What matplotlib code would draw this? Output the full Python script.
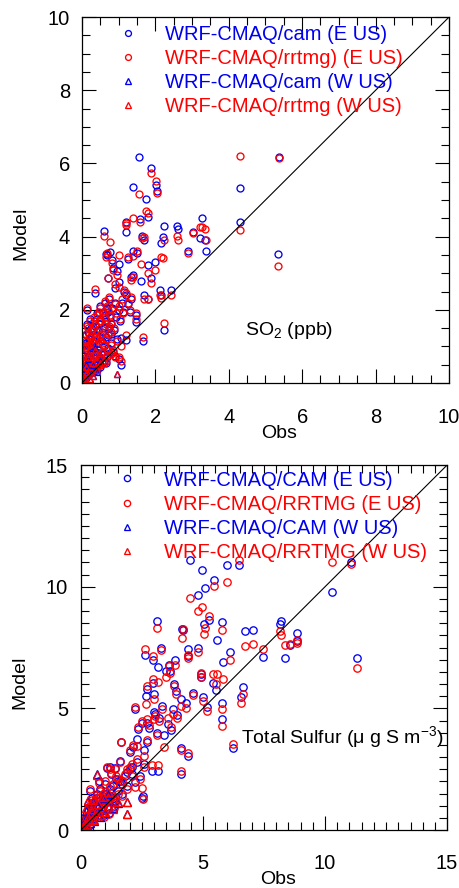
import numpy as np
import matplotlib
matplotlib.use('Agg')
from matplotlib import pyplot as plt
from matplotlib.ticker import MultipleLocator

plt.rcParams['font.family'] = ['Liberation Sans', 'DejaVu Sans']
plt.rcParams['mathtext.fontset'] = 'custom'
plt.rcParams['mathtext.rm'] = 'Liberation Sans'
plt.rcParams['mathtext.it'] = 'Liberation Sans:italic'

# ---- SO2 panel, E US sites: obs, WRF-CMAQ/cam, WRF-CMAQ/rrtmg ----
so2_e_obs = [1.56, 1.87, 2.02, 2.06, 1.40, 1.75, 1.80, 1.57, 0.59, 0.76, 1.20, 1.19, 1.65, 1.68,
             2.25, 2.22, 2.60, 2.62, 3.02, 3.27, 3.36, 3.22, 3.38, 2.90, 2.15, 2.13, 2.15, 1.98,
             1.87, 2.42, 2.24, 1.67, 4.31, 4.31, 5.38, 5.34, 0.65, 0.68, 0.36, 0.15, 1.07, 1.07,
             1.20, 1.47, 1.47, 0.83, 1.00, 1.25, 1.38, 1.50, 1.79, 1.60, 0.70, 0.85, 0.95, 1.40,
             1.35, 0.90, 1.00, 1.20, 1.35, 1.70, 1.80,
             0.05, 0.08, 0.10, 0.12, 0.15, 0.18, 0.20, 0.22, 0.25, 0.28, 0.30, 0.32, 0.35, 0.38,
             0.40, 0.42, 0.45, 0.48, 0.50, 0.52, 0.55, 0.58, 0.60, 0.62, 0.65, 0.68, 0.70, 0.72,
             0.75, 0.78, 0.80, 0.82, 0.85, 0.88, 0.90, 0.92, 0.95, 1.00, 1.02, 1.05, 1.10, 1.12,
             1.15, 1.25, 1.30, 0.02, 0.04, 0.06, 0.03, 0.10, 0.14, 0.20, 0.25, 0.05, 0.08, 0.10,
             0.12, 0.18, 0.22, 0.30, 0.35, 0.40, 0.50, 0.55, 0.60, 0.65, 0.70, 0.80, 0.90,
             0.03, 0.07, 0.09, 0.13, 0.16, 0.19, 0.23, 0.26, 0.29, 0.33, 0.36, 0.39, 0.43, 0.46,
             0.49, 0.53, 0.56, 0.59, 0.63, 0.66, 0.69, 0.73, 0.76, 0.79, 0.60, 0.50, 0.45, 0.35,
             0.25, 0.15]
so2_e_cam = [6.17, 5.89, 5.41, 5.25, 5.36, 5.02, 4.55, 4.49, 4.16, 3.58, 4.14, 4.40, 4.02, 3.92,
             4.28, 4.00, 4.30, 4.20, 4.13, 4.50, 3.92, 3.97, 3.60, 3.62, 3.84, 2.53, 2.40, 3.30,
             2.88, 2.53, 1.44, 1.15, 5.33, 4.41, 6.19, 3.53, 3.53, 3.50, 2.47, 1.99, 1.24, 0.48,
             1.18, 1.85, 1.67, 3.35, 3.25, 3.40, 3.62, 3.55, 3.22, 2.80, 2.86, 3.15, 3.05, 2.96,
             2.90, 2.60, 2.75, 2.40, 2.30, 2.40, 2.30,
             0.20, 0.40, 0.60, 0.30, 0.90, 0.50, 1.20, 0.80, 1.50, 0.40, 1.00, 1.70, 0.70, 1.30,
             1.90, 0.50, 1.10, 1.60, 2.10, 0.80, 1.40, 1.90, 1.00, 2.20, 1.70, 0.70, 1.30, 1.95,
             2.30, 1.10, 1.60, 2.05, 0.85, 1.45, 2.20, 1.80, 1.20, 2.00, 0.65, 1.70, 2.20, 1.95,
             2.50, 2.15, 1.95, 0.05, 0.10, 0.15, 0.30, 0.15, 0.20, 0.25, 0.30, 0.60, 0.90, 1.30,
             1.10, 1.40, 1.20, 0.30, 0.35, 0.35, 0.45, 0.55, 0.60, 0.55, 0.95, 0.85, 0.75,
             0.50, 0.75, 1.05, 1.60, 0.70, 1.00, 1.75, 0.95, 1.45, 1.15, 1.55, 0.85, 1.45, 1.90,
             1.25, 1.65, 1.15, 1.50, 1.85, 1.25, 2.05, 1.50, 1.80, 1.35, 0.80, 0.65, 0.90, 0.50,
             0.65, 0.45]
so2_e_rrtmg = [5.17, 5.73, 5.53, 5.18, 4.52, 4.70, 4.65, 4.40, 4.02, 3.85, 4.37, 4.33, 3.95, 4.00,
               3.92, 3.42, 4.03, 3.92, 4.10, 4.26, 4.20, 4.26, 3.92, 3.55, 3.44, 2.40, 2.33, 3.10,
               2.74, 2.40, 1.64, 1.26, 6.20, 4.19, 6.14, 3.20, 3.44, 3.55, 2.57, 2.06, 1.02, 0.60,
               1.30, 1.76, 1.92, 3.28, 3.50, 3.45, 3.48, 3.60, 3.00, 3.25, 2.86, 3.10, 2.95, 2.90,
               2.82, 2.70, 2.62, 2.45, 2.35, 2.30, 2.30,
               0.25, 0.35, 0.70, 0.35, 1.00, 0.55, 1.30, 0.75, 1.45, 0.50, 1.10, 1.80, 0.75, 1.25,
               1.85, 0.60, 1.20, 1.70, 2.05, 0.85, 1.35, 1.95, 1.05, 2.25, 1.60, 0.75, 1.35, 2.00,
               2.35, 1.05, 1.65, 2.00, 0.90, 1.50, 2.15, 1.90, 1.15, 2.10, 0.70, 1.75, 2.30, 1.90,
               2.55, 2.20, 2.00, 0.08, 0.12, 0.10, 0.28, 0.20, 0.22, 0.30, 0.28, 0.65, 0.95, 1.35,
               1.15, 1.50, 1.25, 0.35, 0.40, 0.45, 0.50, 0.60, 0.55, 0.60, 0.90, 0.80, 0.70,
               0.55, 0.80, 1.00, 1.55, 0.65, 1.05, 1.70, 0.90, 1.50, 1.20, 1.60, 0.80, 1.40, 1.95,
               1.30, 1.70, 1.10, 1.55, 1.80, 1.20, 2.10, 1.55, 1.85, 1.40, 0.85, 0.70, 0.95, 0.55,
               0.60, 0.50]

# ---- SO2 panel, W US sites ----
so2_w_obs = [0.02, 0.04, 0.05, 0.08, 0.10, 0.12, 0.15, 0.18, 0.20, 0.25, 0.30, 0.35, 0.40, 0.47,
             0.50, 0.96, 0.12, 0.22, 0.06, 0.30]
so2_w_cam = [0.05, 0.15, 0.30, 0.10, 0.50, 0.20, 0.35, 0.65, 0.78, 1.31, 0.50, 0.95, 0.30, 0.82,
             0.60, 0.24, 0.06, 0.10, 0.22, 0.20]
so2_w_rrtmg = [0.04, 0.12, 0.35, 0.12, 0.45, 0.25, 0.30, 0.70, 0.78, 1.31, 0.55, 0.90, 0.35, 0.82,
               0.55, 0.24, 0.05, 0.12, 0.20, 0.18]

# ---- Total sulfur panel, E US sites ----
ts_e_obs = [4.47, 4.95, 5.45, 5.08, 4.81, 5.26, 5.04, 6.00, 6.49, 3.13, 4.13, 4.20, 5.77, 5.56,
            6.72, 7.06, 2.62, 3.27, 2.94, 3.14, 3.60, 3.65, 4.40, 4.40, 4.81, 6.10, 5.83, 3.85,
            3.50, 2.96, 2.68, 2.21, 2.99, 3.34, 2.35, 2.28, 1.62, 2.58, 2.93, 3.17, 4.10, 4.10,
            4.40, 4.90, 4.90, 4.60, 5.15, 5.40, 5.55, 5.00, 3.80, 3.90, 4.10, 4.30, 3.78, 3.55,
            3.70, 3.40, 5.76, 5.76, 6.65, 6.55, 6.21, 10.28, 11.07, 11.29, 8.15, 8.20, 7.47, 8.35,
            8.55, 8.85, 8.87, 1.05, 1.20, 1.60, 0.37, 2.21, 2.55, 1.45, 1.80, 2.00, 2.30, 2.60,
            2.10, 1.50, 1.30, 1.00, 0.90, 0.80, 0.70, 0.60, 0.50, 0.45, 0.40, 0.30, 0.25, 0.20,
            0.15, 0.10, 0.05, 0.35, 0.55, 0.70, 0.85, 1.00, 1.10, 1.20, 1.40, 1.60, 1.70, 1.90,
            2.40, 1.15, 0.95, 1.35, 0.65, 0.75, 1.25, 1.40, 2.00, 2.15, 2.70, 2.80, 3.10, 3.20,
            2.50, 3.00, 2.70, 2.49, 3.03, 3.92, 2.69,
            0.30, 0.40, 0.50, 0.60, 0.70, 0.80, 0.90, 1.00, 1.10, 1.20, 1.30, 1.50, 1.70, 1.90,
            2.10, 0.20, 0.15, 0.35, 0.55, 0.45]
ts_e_cam = [11.10, 10.70, 10.29, 9.95, 9.67, 8.63, 8.47, 10.90, 10.90, 8.60, 8.27, 8.22, 8.54, 7.83,
            8.17, 8.24, 7.21, 7.49, 7.00, 6.69, 6.80, 6.55, 7.43, 7.16, 7.48, 7.33, 6.90, 7.00,
            6.54, 6.06, 5.49, 4.97, 4.83, 5.10, 4.15, 3.74, 3.63, 3.28, 2.44, 2.41, 2.30, 3.37,
            3.05, 6.40, 6.27, 5.65, 5.04, 6.06, 5.75, 5.45, 6.00, 5.72, 5.40, 5.20, 4.97, 4.35,
            4.10, 3.90, 5.24, 4.56, 5.86, 5.47, 3.39, 9.79, 11.00, 7.09, 8.45, 8.57, 7.12, 7.05,
            7.60, 7.75, 8.10, 2.55, 2.60, 2.85, 1.60, 1.96, 1.40, 2.10, 2.20, 2.50, 2.80, 2.70,
            2.30, 1.60, 1.80, 1.90, 1.40, 1.70, 1.20, 0.90, 1.10, 0.70, 0.50, 0.35, 0.50, 0.25,
            0.10, 0.15, 0.05, 0.20, 0.45, 0.60, 0.80, 1.10, 0.90, 1.40, 1.20, 2.00, 1.50, 1.80,
            2.20, 0.70, 0.60, 1.00, 1.50, 2.00, 2.30, 2.55, 3.20, 3.40, 3.60, 4.20, 4.00, 4.60,
            4.40, 5.60, 5.80, 1.30, 4.78, 4.71, 4.40,
            0.80, 1.00, 0.80, 1.30, 0.90, 1.20, 1.00, 1.50, 1.20, 1.70, 1.30, 2.00, 1.90, 2.40,
            2.60, 0.50, 0.35, 0.65, 0.60, 1.30]
ts_e_rrtmg = [9.54, 9.18, 10.02, 8.30, 9.02, 8.81, 8.05, 10.18, 11.10, 8.30, 7.90, 8.28, 8.24, 6.40,
              7.58, 7.66, 7.45, 7.38, 7.17, 6.10, 6.75, 6.45, 7.20, 7.05, 7.30, 7.00, 6.19, 6.80,
              6.27, 6.20, 5.17, 5.04, 4.56, 4.97, 4.22, 3.46, 3.60, 3.05, 2.68, 2.68, 2.44, 3.28,
              3.15, 6.47, 6.30, 5.56, 4.90, 6.40, 6.00, 5.31, 5.93, 5.60, 5.10, 5.00, 4.76, 4.60,
              4.25, 3.40, 4.97, 4.28, 5.60, 5.23, 3.53, 11.03, 10.95, 6.64, 8.18, 8.02, 7.45, 7.60,
              7.65, 7.70, 7.80, 2.60, 2.50, 2.78, 1.68, 1.75, 1.27, 2.20, 2.30, 2.60, 2.90, 2.60,
              2.20, 1.50, 1.90, 2.00, 1.50, 1.60, 1.30, 1.00, 1.05, 0.75, 0.55, 0.40, 0.45, 0.30,
              0.15, 0.10, 0.08, 0.25, 0.50, 0.55, 0.90, 1.20, 0.85, 1.30, 1.10, 1.90, 1.40, 1.70,
              2.10, 0.65, 0.55, 0.90, 1.45, 1.95, 2.35, 2.50, 3.30, 3.50, 3.70, 4.30, 3.90, 4.50,
              4.50, 5.40, 5.90, 1.71, 4.70, 4.60, 4.58,
              0.85, 1.10, 0.75, 1.25, 0.95, 1.30, 0.95, 1.55, 1.25, 1.80, 1.40, 2.10, 2.00, 2.50,
              2.70, 0.55, 0.30, 0.60, 0.65, 1.25]

# ---- Total sulfur panel, W US sites ----
ts_w_obs = [0.05, 0.10, 0.15, 0.20, 0.25, 0.30, 0.35, 0.40, 0.45, 0.50, 0.55, 0.60, 0.65, 0.70,
            0.80, 0.90, 1.00, 1.10, 1.30, 1.50, 1.87, 1.87, 0.30, 0.20]
ts_w_cam = [0.05, 0.20, 0.10, 0.40, 0.15, 0.60, 0.30, 0.90, 0.50, 1.20, 0.35, 0.80, 2.30, 1.00,
            0.55, 1.30, 0.70, 1.50, 0.90, 1.10, 1.16, 0.66, 1.20, 0.80]
ts_w_rrtmg = [0.06, 0.15, 0.12, 0.35, 0.20, 0.55, 0.35, 0.85, 0.45, 1.25, 0.40, 0.75, 2.25, 1.05,
              0.60, 1.35, 0.75, 1.55, 0.85, 1.15, 1.16, 0.66, 1.25, 0.90]

so2_labels = ['WRF-CMAQ/cam (E US)', 'WRF-CMAQ/rrtmg) (E US)',
              'WRF-CMAQ/cam (W US)', 'WRF-CMAQ/rrtmg (W US)']
ts_labels = ['WRF-CMAQ/CAM (E US)', 'WRF-CMAQ/RRTMG (E US)',
             'WRF-CMAQ/CAM (W US)', 'WRF-CMAQ/RRTMG (W US)']

BLUE = '#0000ee'
RED = '#ff0000'


def scatter_panel(ax, e_obs, e_cam, e_rr, w_obs, w_cam, w_rr, labels, vmax, major, ms, leg_top):
    kw = dict(linestyle='none', markerfacecolor='none', markersize=ms, markeredgewidth=0.95)
    ax.plot(e_obs, e_cam, marker='o', color=BLUE, label=labels[0], **kw)
    ax.plot(e_obs, e_rr, marker='o', color=RED, label=labels[1], **kw)
    ax.plot(w_obs, w_cam, marker='^', color=BLUE, label=labels[2], **kw)
    ax.plot(w_obs, w_rr, marker='^', color=RED, label=labels[3], **kw)
    ax.plot([0, vmax], [0, vmax], color='black', linewidth=0.8)
    ax.set_xlim(0, vmax)
    ax.set_ylim(0, vmax)
    for axis in (ax.xaxis, ax.yaxis):
        axis.set_major_locator(MultipleLocator(major))
        axis.set_minor_locator(MultipleLocator(0.5))
    ax.tick_params(which='both', direction='in', top=True, right=True, width=0.8, labelsize=14.5)
    ax.tick_params(which='major', length=10)
    ax.tick_params(which='minor', length=6)
    for sp in ax.spines.values():
        sp.set_linewidth(0.9)
    leg = ax.legend(loc='upper left', bbox_to_anchor=(0.07, leg_top), frameon=False,
                    fontsize=14.5, handlelength=2.0, handletextpad=0.85, labelspacing=0.25,
                    borderpad=0, borderaxespad=0, numpoints=1, markerscale=0.85)
    for txt, col in zip(leg.get_texts(), [BLUE, RED, BLUE, RED]):
        txt.set_color(col)
    ax.set_xlabel('Obs', fontsize=14)
    ax.set_ylabel('Model', fontsize=14)


fig = plt.figure(figsize=(4.6, 8.88), dpi=100)
ax1 = fig.add_axes([0.178, 0.5687, 0.798, 0.412])
ax2 = fig.add_axes([0.176, 0.0653, 0.796, 0.411])

scatter_panel(ax1, so2_e_obs, so2_e_cam, so2_e_rrtmg, so2_w_obs, so2_w_cam, so2_w_rrtmg,
              so2_labels, 10, 2, 5, 0.978)
ax1.tick_params(axis='x', which='major', pad=18)
ax1.tick_params(axis='y', which='major', pad=8.5)
ax1.xaxis.set_label_coords(0.537, -0.115)
ax1.yaxis.set_label_coords(-0.144, 0.41)
ax1.text(4.45, 1.31, 'SO$_\\mathregular{2}$ (ppb)', fontsize=14, va='baseline')

scatter_panel(ax2, ts_e_obs, ts_e_cam, ts_e_rrtmg, ts_w_obs, ts_w_cam, ts_w_rrtmg,
              ts_labels, 15, 5, 5.3, 0.985)
ax2.tick_params(axis='x', which='major', pad=17)
ax2.tick_params(axis='y', which='major', pad=9.4)
ax2.xaxis.set_label_coords(0.538, -0.113)
ax2.yaxis.set_label_coords(-0.144, 0.405)
ax2.text(6.55, 3.59, 'Total Sulfur (\u03bc g S m$^\\mathregular{-3}$)', fontsize=14, va='baseline')

fig.savefig('out.png', dpi=100)
